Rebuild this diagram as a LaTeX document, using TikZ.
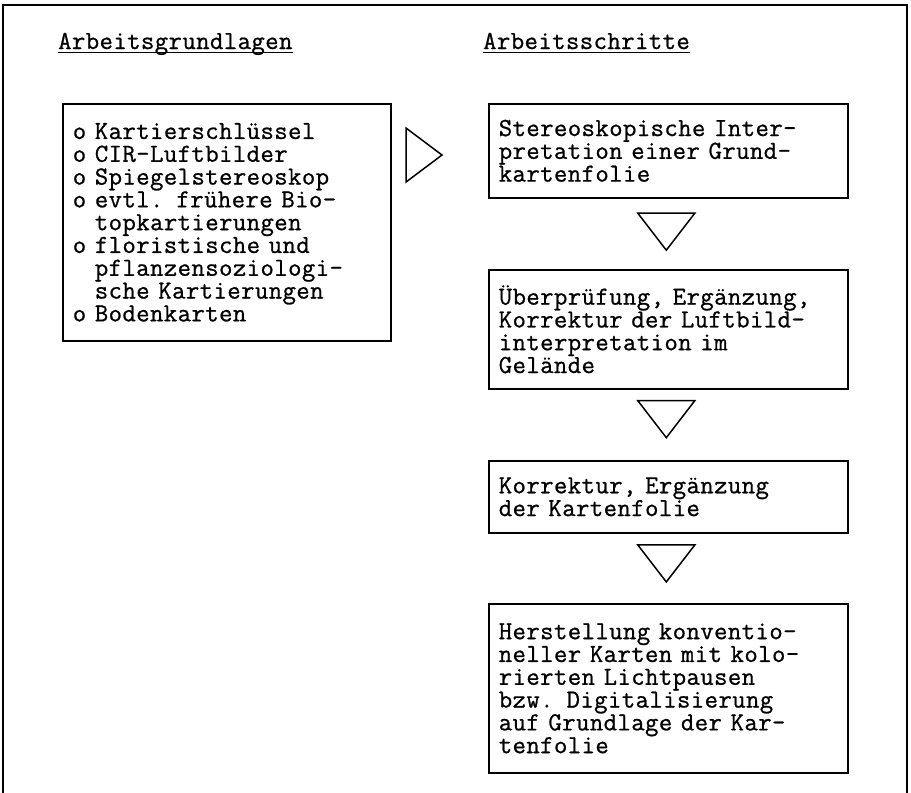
\documentclass[tikz,border=0pt]{standalone}
\usepackage{fontspec}
\newfontfamily\cour[LetterSpace=1.6,FakeBold=0.8]{Latin Modern Mono}
\usetikzlibrary{calc}
\begin{document}
\begin{tikzpicture}[x=1pt,y=-1pt,
  txt/.style={font=\cour\fontsize{26}{22.8}\selectfont},
  box/.style={txt,draw,line width=1.6pt,rectangle,align=left,inner xsep=10pt,inner ysep=0pt,anchor=north west},
  title/.style={txt,inner sep=0pt,anchor=base west},
  uline/.style={line width=1.5pt},
  tri/.style={line width=1.5pt,line join=miter},
  downtri/.pic={\draw[tri] (-28.5,-18.5) -- (28.5,-18.5) -- (0,18.5) -- cycle;},
  righttri/.pic={\draw[tri] (-18,-27) -- (-18,27) -- (18,0) -- cycle;}]
\useasboundingbox (0,0) rectangle (911,793);
\fill[white] (0,0) rectangle (911,793);
\draw[line width=1.8pt] (3,793) -- (3,5) -- (907,5) -- (907,793);

\node[title] (t1) at (58,49) {Arbeitsgrundlagen};
\node[title] (t2) at (483,49) {Arbeitsschritte};
\draw[uline] ([yshift=-3.5pt]t1.base west) -- ([yshift=-3.5pt]t1.base east);
\draw[uline] ([yshift=-3.5pt]t2.base west) -- ([yshift=-3.5pt]t2.base east);

\node[box,text width=308pt,minimum height=237pt] (grund) at (62,103)
  {o Kartierschlüssel\\
   o CIR-Luftbilder\\
   o Spiegelstereoskop\\
   o evtl. frühere Bio-\\
   \phantom{o\ }topkartierungen\\
   o floristische und\\
   \phantom{o\ }pflanzensoziologi-\\
   \phantom{o\ }sche Kartierungen\\
   o Bodenkarten};

\node[box,text width=339pt,minimum height=94pt] (s1) at (488,103)
  {Stereoskopische Inter-\\pretation einer Grund-\\kartenfolie};
\node[box,text width=339pt,minimum height=119pt] (s2) at (488,269)
  {Überprüfung, Ergänzung,\\Korrektur der Luftbild-\\interpretation im\\Gelände};
\node[box,text width=339pt,minimum height=72pt] (s3) at (488,460)
  {Korrektur, Ergänzung\\der Kartenfolie};
\node[box,text width=339pt,minimum height=169pt] (s4) at (488,603)
  {Herstellung konventio-\\neller Karten mit kolo-\\rierten Lichtpausen\\bzw. Digitalisierung\\auf Grundlage der Kar-\\tenfolie};

\pic at (424,155) {righttri};
\pic at ($([xshift=-2pt]s1.south)!0.47!([xshift=-2pt]s2.north)$) {downtri};
\pic at ($([xshift=-2pt]s2.south)!0.42!([xshift=-2pt]s3.north)$) {downtri};
\pic at ($([xshift=-2pt]s3.south)!0.43!([xshift=-2pt]s4.north)$) {downtri};
\end{tikzpicture}
\end{document}
